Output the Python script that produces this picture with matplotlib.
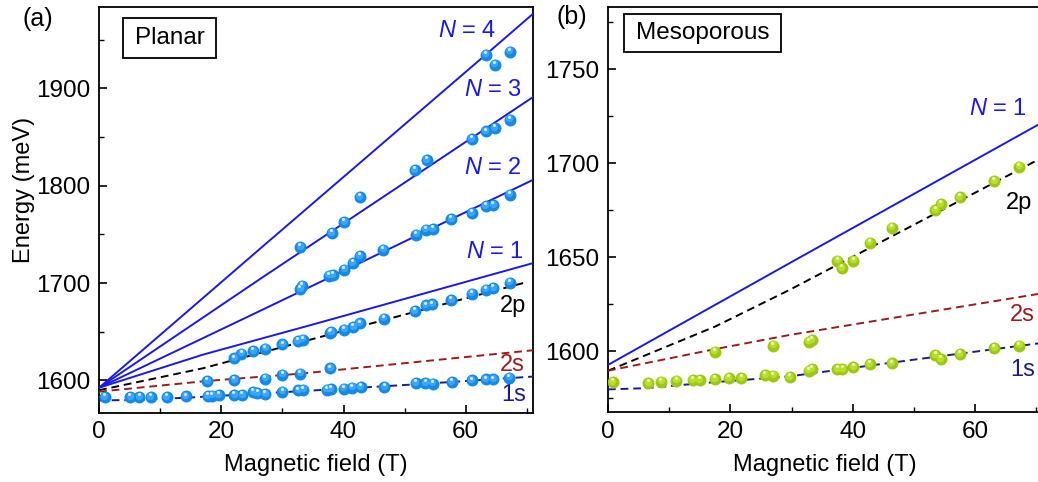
import matplotlib
matplotlib.use('Agg')
import matplotlib.pyplot as plt
from matplotlib.patches import Rectangle
from matplotlib.transforms import offset_copy

plt.rcParams['font.family'] = ['Liberation Sans', 'DejaVu Sans']
plt.rcParams['mathtext.fontset'] = 'custom'
plt.rcParams['mathtext.rm'] = 'Liberation Sans'
plt.rcParams['mathtext.it'] = 'Liberation Sans:italic'

# ---------- (a) planar : measured points ----------
p1s_B = [0.9, 5.1, 6.6, 8.5, 11.1, 14.2, 17.8, 18.5, 19.6, 22.1, 23.4, 25.2, 25.9, 27.2, 30.0, 32.6,
         33.4, 37.3, 37.9, 40.0, 41.4, 42.8, 46.7, 51.8, 53.4, 54.6, 57.7, 61.0, 63.3, 64.5, 67.1]
p1s_E = [1583, 1583, 1583, 1583, 1583, 1583.6, 1584, 1584.3, 1584.8, 1585, 1585, 1588, 1587, 1586, 1588.4, 1589.7,
         1590.4, 1590.5, 1590.8, 1591.5, 1592.5, 1593, 1593, 1597, 1597, 1596.6, 1598.3, 1600, 1601, 1601, 1602.7]
p2s_B = [17.7, 22.1, 27.2, 30.0, 32.9, 37.8]
p2s_E = [1599.3, 1600.3, 1602, 1606, 1606.8, 1612.3]
p2p_B = [22.1, 23.3, 25.2, 27.2, 30.0, 32.5, 33.3, 37.8, 38.0, 40.1, 41.6, 42.7, 46.6, 51.7, 53.5, 54.5,
         57.6, 61.0, 63.3, 64.5, 67.2]
p2p_E = [1622.6, 1627.4, 1630, 1632.5, 1637, 1640.3, 1642, 1649, 1649.5, 1652.3, 1654.7, 1658.5, 1663.3, 1671,
         1677, 1678, 1682.4, 1689, 1693.3, 1695, 1700.2]
pN2_B = [32.9, 33.2, 37.6, 38.2, 40.1, 41.5, 42.7, 46.5, 51.9, 53.5, 54.6, 57.6, 61.0, 63.3, 64.5, 67.2]
pN2_E = [1694, 1697.4, 1707.7, 1707.9, 1713.8, 1720.7, 1727.5, 1734.4, 1749.7, 1754.9, 1755.6, 1765.8,
         1772, 1778.8, 1779.8, 1790.8]
pN3_B = [32.9, 38.1, 40.1, 42.7, 51.7, 53.6, 61.0, 63.3, 64.7, 67.2]
pN3_E = [1736.7, 1751.5, 1762.4, 1788, 1815.7, 1826, 1847.9, 1855.7, 1859, 1867.7]
pN4_B = [63.3, 64.7, 67.2]
pN4_E = [1934.7, 1924.4, 1937.4]

# (a) planar : model curves
a_N4 = ([0, 26.2, 63.3, 71], [1592.5, 1734.5, 1934.7, 1976.5])
a_N3 = ([0, 26.2, 71], [1592.5, 1703.6, 1891])
a_N2 = ([0, 26.2, 71], [1592.5, 1671, 1806])
a_N1 = ([0, 17, 35, 71], [1592.5, 1626.5, 1657.5, 1720.5])
a_2p = ([0, 17, 40, 70], [1590, 1612.5, 1651, 1701])
a_2s = ([0, 17.7, 33, 71], [1588.5, 1599.5, 1607, 1631])
a_1s = ([0, 6, 15, 34.4, 51.8, 71], [1579.5, 1580, 1582.5, 1589.5, 1596, 1604])

# ---------- (b) mesoporous : measured points ----------
m1s_B = [0.8, 6.6, 8.7, 11.2, 13.9, 15.0, 17.5, 19.7, 21.8, 25.7, 27.0, 29.7, 32.8, 33.3, 37.5, 38.3,
         40.1, 42.8, 46.4, 53.5, 54.4, 57.5, 63.1, 67.2]
m1s_E = [1583.3, 1582.8, 1583.7, 1584.2, 1584.6, 1584.6, 1585, 1585.5, 1585.5, 1587.2, 1586.9, 1586,
         1589.5, 1590.4, 1590.4, 1590.4, 1591.3, 1592.9, 1593.4, 1597.9, 1595.7, 1598.2, 1601.4, 1602.8]
m2s_B = [17.5, 27.0, 32.8, 33.3]
m2s_E = [1599.6, 1602.8, 1605, 1605.9]
m2p_B = [37.5, 38.2, 40.1, 42.8, 46.4, 53.5, 54.4, 57.5, 63.1, 67.2]
m2p_E = [1648, 1644, 1648, 1657.6, 1665.6, 1675, 1678.2, 1681.8, 1690.4, 1698]

# (b) mesoporous : model curves
b_N1 = ([0, 29.6, 70.2, 71], [1592.6, 1646.6, 1720.2, 1721.6])
b_2p = ([0, 17.5, 29.6, 70.2, 71], [1589.5, 1613, 1632.4, 1701.6, 1703])
b_2s = ([0, 17.5, 29.6, 70.2, 71], [1589.5, 1601, 1608.5, 1630.3, 1630.7])
b_1s = ([0, 6, 15, 29.6, 51.4, 70.2, 71], [1579.6, 1580.2, 1582.8, 1586.5, 1596, 1604, 1604.4])

blue = '#1a1ae8'
red = '#9b1c1c'
navy = '#1c1c8c'
dash = (4, 2.5)
fsz = 17.5   # ticks / box labels
fs = 17      # curve labels

fig = plt.figure(figsize=(10.38, 4.82), dpi=100)
axa = fig.add_axes([0.0954, 0.1432, 0.4181, 0.8423])
axb = fig.add_axes([0.5857, 0.1442, 0.4186, 0.8413])


def balls(ax, B, E, c0, c1, c2):
    # shaded spheres: body + soft highlight + bright spot
    ax.plot(B, E, 'o', ms=8.6, color=c0, mec='none', zorder=5)
    t1 = offset_copy(ax.transData, fig=fig, x=-0.4, y=1.0, units='points')
    ax.plot(B, E, 'o', ms=5.4, color=c1, mec='none', zorder=6, transform=t1)
    t2 = offset_copy(ax.transData, fig=fig, x=-0.6, y=2.1, units='points')
    ax.plot(B, E, 'o', ms=2.2, color=c2, mec='none', zorder=7, transform=t2)


def style(ax):
    ax.tick_params(direction='in', which='major', length=6, width=1.2, labelsize=fsz, pad=6,
                   top=False, right=False)
    ax.tick_params(direction='in', which='minor', length=3.5, width=1.0, top=False, right=False)
    for s in ax.spines.values():
        s.set_linewidth(1.3)
    ax.set_xlim(0, 71)
    ax.set_xticks([0, 20, 40, 60])
    ax.set_xticks([10, 30, 50, 70], minor=True)
    ax.set_xlabel('Magnetic field (T)', fontsize=17, labelpad=8)


# ----- panel (a)
for B, E in [a_N4, a_N3, a_N2, a_N1]:
    axa.plot(B, E, color=blue, lw=1.4, zorder=3)
axa.plot(*a_2p, color='black', lw=1.4, dashes=dash, zorder=3)
axa.plot(*a_2s, color=red, lw=1.4, dashes=dash, zorder=3)
axa.plot(*a_1s, color=navy, lw=1.4, dashes=dash, zorder=3)
for B, E in [(p1s_B, p1s_E), (p2s_B, p2s_E), (p2p_B, p2p_E), (pN2_B, pN2_E), (pN3_B, pN3_E), (pN4_B, pN4_E)]:
    balls(axa, B, E, '#1589e6', '#3aa6ff', '#d6eeff')

style(axa)
axa.set_ylim(1566.6, 1983.5)
axa.set_yticks([1600, 1700, 1800, 1900])
axa.set_yticks([1650, 1750, 1850, 1950], minor=True)
axa.set_ylabel('Energy (meV)', fontsize=17)
axa.yaxis.set_label_coords(-0.147, 0.549)

axa.text(65.0, 1958.8, r'$N$ = 4', color=blue, fontsize=fs, ha='right', va='center')
axa.text(69.2, 1898.3, r'$N$ = 3', color=blue, fontsize=fs, ha='right', va='center')
axa.text(69.2, 1818.2, r'$N$ = 2', color=blue, fontsize=fs, ha='right', va='center')
axa.text(69.6, 1732.4, r'$N$ = 1', color=blue, fontsize=fs, ha='right', va='center')
axa.text(69.9, 1676.5, '2p', color='black', fontsize=fs, ha='right', va='center')
axa.text(69.6, 1615.9, '2s', color=red, fontsize=fs, ha='right', va='center')
axa.text(69.9, 1585.1, '1s', color=navy, fontsize=fs, ha='right', va='center')

axa.add_patch(Rectangle((0.0553, 0.8744), 0.2143, 0.0985, transform=axa.transAxes,
                        fill=False, lw=1.3, ec='black', zorder=8))
axa.text(0.1625, 0.924, 'Planar', transform=axa.transAxes, fontsize=fsz, ha='center', va='center')

# ----- panel (b)
axb.plot(*b_N1, color=blue, lw=1.4, zorder=3)
axb.plot(*b_2p, color='black', lw=1.4, dashes=dash, zorder=3)
axb.plot(*b_2s, color=red, lw=1.4, dashes=dash, zorder=3)
axb.plot(*b_1s, color=navy, lw=1.4, dashes=dash, zorder=3)
for B, E in [(m1s_B, m1s_E), (m2s_B, m2s_E), (m2p_B, m2p_E)]:
    balls(axb, B, E, '#9cc814', '#b8e02a', '#effcc0')

style(axb)
axb.set_ylim(1567.3, 1783)
axb.set_yticks([1600, 1650, 1700, 1750])
axb.set_yticks([1575, 1625, 1675, 1725, 1775], minor=True)

axb.text(68.5, 1728.7, r'$N$ = 1', color=blue, fontsize=fs, ha='right', va='center')
axb.text(69.3, 1678.7, '2p', color='black', fontsize=fs, ha='right', va='center')
axb.text(69.8, 1619.1, '2s', color=red, fontsize=fs, ha='right', va='center')
axb.text(69.8, 1589.9, '1s', color=navy, fontsize=fs, ha='right', va='center')

axb.add_patch(Rectangle((0.0368, 0.889), 0.3612, 0.0937, transform=axb.transAxes,
                        fill=False, lw=1.3, ec='black', zorder=8))
axb.text(0.2174, 0.935, 'Mesoporous', transform=axb.transAxes, fontsize=fsz, ha='center', va='center')

fig.text(38 / 1038, 1 - 19 / 482, '(a)', fontsize=18, ha='center', va='center')
fig.text(572 / 1038, 1 - 17 / 482, '(b)', fontsize=18, ha='center', va='center')

fig.savefig('out.png', dpi=100)
